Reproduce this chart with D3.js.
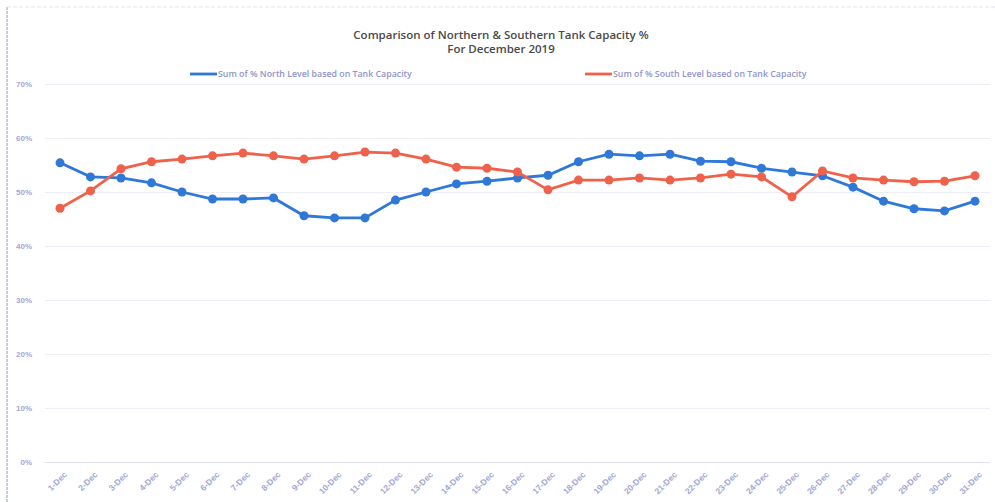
<!DOCTYPE html>
<html>
<head>
<meta charset="utf-8">
<script src="https://cdn.jsdelivr.net/npm/d3@7"></script>
<style>
  body { margin: 0; background: #fff; }
  svg { display: block; font-family: "Open Sans", "DejaVu Sans", sans-serif; }
  .grid line { stroke: #eceef7; stroke-width: 1; }
  .grid path { display: none; }
  .yAxis text { fill: #a3a8d3; font-size: 8px; font-weight: 700; }
  .xAxis text { fill: #a3a8d3; font-size: 8.5px; font-weight: 700; }
  .yAxis path, .yAxis line, .xAxis line { display: none; }
  .xAxis path { stroke: #dfe1ef; }
  .title { fill: #4a4a4a; font-size: 11.5px; font-weight: 600; }
  .legendText { fill: #8f95c8; font-size: 8.8px; font-weight: 600; }
</style>
</head>
<body>
<div id="chart"></div>
<script>
var days = d3.range(1, 32).map(function (d) { return d + "-Dec"; });
var yTicks = [0, 10, 20, 30, 40, 50, 60, 70];
var northSeries = [55.4, 52.8, 52.6, 51.7, 50.0, 48.7, 48.7, 48.9, 45.6, 45.2, 45.2, 48.5, 50.0, 51.5, 52.0, 52.6,
  53.1, 55.6, 57.0, 56.7, 57.0, 55.7, 55.6, 54.4, 53.7, 53.0, 50.9, 48.3, 46.9, 46.5, 48.3];
var southSeries = [47.0, 50.2, 54.3, 55.6, 56.1, 56.7, 57.2, 56.7, 56.1, 56.7, 57.4, 57.2, 56.1, 54.6, 54.4, 53.7,
  50.4, 52.2, 52.2, 52.6, 52.2, 52.6, 53.3, 52.8, 49.1, 53.9, 52.6, 52.2, 51.9, 52.0, 53.0];

var width = 995;
var height = 502;
var svg = d3.select("#chart").append("svg").attr("width", width).attr("height", height);

/// Frame (faint dashed border on the left and top)
svg.append("line").attr("x1", 7).attr("y1", 7).attr("x2", 7).attr("y2", height)
  .attr("stroke", "#b7bbdc").attr("stroke-width", 1.5).attr("stroke-dasharray", "3,1");
svg.append("line").attr("x1", 7).attr("y1", 7).attr("x2", width).attr("y2", 7)
  .attr("stroke", "#e3e5f2").attr("stroke-width", 1).attr("stroke-dasharray", "4,2");

var xScale = d3.scalePoint().domain(days).range([60, 975]);
var yScale = d3.scaleLinear().domain([0, 70]).range([462, 84]);

/// Grid lines
svg.append("g")
  .attr("class", "grid")
  .attr("transform", "translate(45,0)")
  .call(d3.axisLeft(yScale).tickValues(yTicks).tickSize(-945).tickFormat(""));

svg.append("g")
  .attr("class", "yAxis")
  .attr("transform", "translate(35,0)")
  .call(d3.axisLeft(yScale).tickValues(yTicks).tickSize(0).tickFormat(function (d) { return d + "%"; }));

var xAxis = svg.append("g")
  .attr("class", "xAxis")
  .attr("transform", "translate(0,462)")
  .call(d3.axisBottom(xScale).tickSize(0));
xAxis.select(".domain").attr("d", "M45,0.5H990");
xAxis.selectAll("text")
  .attr("text-anchor", "end")
  .attr("dy", 0)
  .attr("transform", "translate(5,11) rotate(-45)");

/// Title
svg.append("text").attr("class", "title").attr("x", 501).attr("y", 39).attr("text-anchor", "middle")
  .text("Comparison of Northern & Southern Tank Capacity %");
svg.append("text").attr("class", "title").attr("x", 501).attr("y", 53).attr("text-anchor", "middle")
  .text("For December 2019");

var series = [
  { name: "Sum of % North Level based on Tank Capacity", values: northSeries, color: "#2f78d8", lx: 190 },
  { name: "Sum of % South Level based on Tank Capacity", values: southSeries, color: "#f0614b", lx: 585 }
];

var line = d3.line()
  .x(function (d, i) { return xScale(days[i]); })
  .y(function (d) { return yScale(d); });

series.forEach(function (s) {
  svg.append("line").attr("x1", s.lx).attr("x2", s.lx + 27).attr("y1", 74).attr("y2", 74)
    .attr("stroke", s.color).attr("stroke-width", 2.8);
  svg.append("text").attr("class", "legendText").attr("x", s.lx + 28).attr("y", 77).text(s.name);
});

series.forEach(function (s) {
  svg.append("path")
    .datum(s.values)
    .attr("fill", "none")
    .attr("stroke", s.color)
    .attr("stroke-width", 2.8)
    .attr("d", line);
  svg.selectAll("c" + s.lx)
    .data(s.values)
    .enter()
    .append("circle")
    .attr("cx", function (d, i) { return xScale(days[i]); })
    .attr("cy", function (d) { return yScale(d); })
    .attr("r", 4.5)
    .attr("fill", s.color);
});
</script>
</body>
</html>
